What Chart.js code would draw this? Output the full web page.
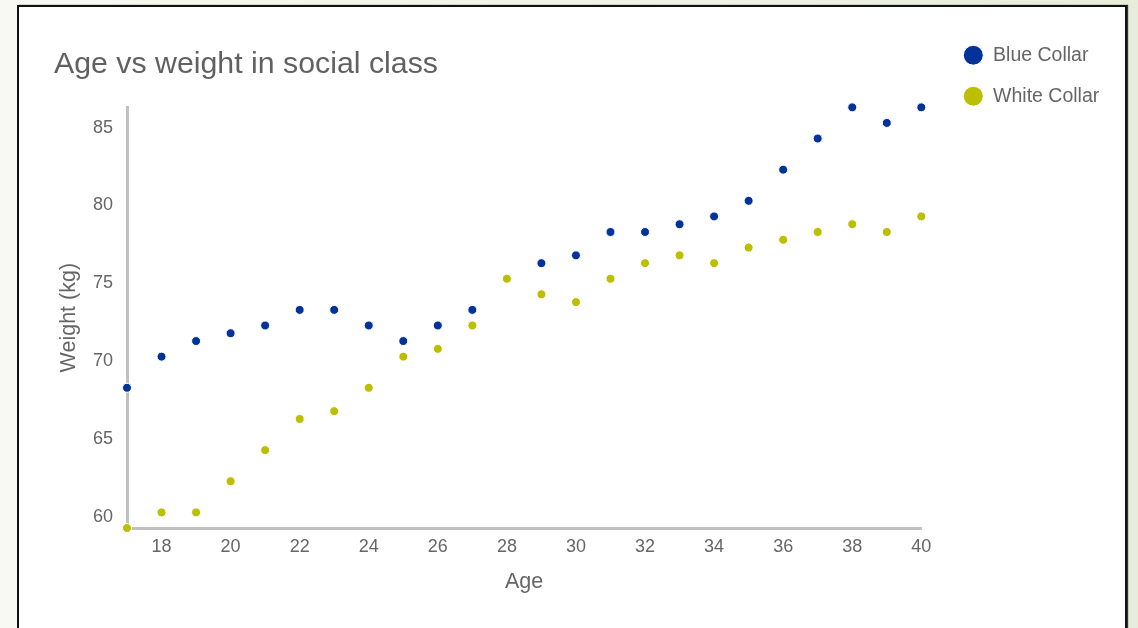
<!DOCTYPE html>
<html>
<head>
<meta charset="utf-8">
<title>Age vs weight in social class</title>
<script src="https://cdn.jsdelivr.net/npm/chart.js@4.4.1/dist/chart.umd.min.js"></script>
<style>
  html, body {
    margin: 0;
    padding: 0;
    width: 1138px;
    height: 628px;
    overflow: hidden;
    background: linear-gradient(to right, #f8f9f3 0%, #f1f3e8 50%, #e8eddb 100%);
  }
  #card {
    position: absolute;
    left: 17px;
    top: 5px;
    width: 1106px;
    height: 700px;
    background: #ffffff;
    border: 2px solid #111111;
    box-shadow: 1px 0 1px #333333;
  }
  #chart {
    position: absolute;
    left: 0;
    top: 0;
  }
</style>
</head>
<body>
<div id="card"></div>
<canvas id="chart" width="1138" height="628"></canvas>
<script>
// Age in years (x) and mean weight in kg (y) for the two groups
const ages = [17, 18, 19, 20, 21, 22, 23, 24, 25, 26, 27, 28, 29, 30, 31, 32, 33, 34, 35, 36, 37, 38, 39, 40];
const blueCollar = [68.3, 70.3, 71.3, 71.8, 72.3, 73.3, 73.3, 72.3, 71.3, 72.3, 73.3, null, 76.3, 76.8, 78.3, 78.3, 78.8, 79.3, 80.3, 82.3, 84.3, 86.3, 85.3, 86.3];
const whiteCollar = [59.3, 60.3, 60.3, 62.3, 64.3, 66.3, 66.8, 68.3, 70.3, 70.8, 72.3, 75.3, 74.3, 73.8, 75.3, 76.3, 76.8, 76.3, 77.3, 77.8, 78.3, 78.8, 78.3, 79.3];
const ageTicks = [18, 20, 22, 24, 26, 28, 30, 32, 34, 36, 38, 40];
const weightTicks = [60, 65, 70, 75, 80, 85];

const seriesNames = ['Blue Collar', 'White Collar'];
const seriesColors = ['#03339a', '#bbbf00'];

function toPoints(values) {
  const pts = [];
  values.forEach((v, i) => {
    if (v !== null) pts.push({ x: ages[i], y: v });
  });
  return pts;
}

const allWeights = blueCollar.concat(whiteCollar).filter(v => v !== null);
const yMin = Math.min(...allWeights);
const yMax = Math.max(...allWeights);

Chart.defaults.font.family = "'Liberation Sans', Arial, sans-serif";
Chart.defaults.color = '#666666';

const textColor = '#666666';
const axisColor = '#c0c0c0';

new Chart(document.getElementById('chart'), {
  type: 'scatter',
  data: {
    datasets: [blueCollar, whiteCollar].map((values, i) => ({
      label: seriesNames[i],
      data: toPoints(values),
      backgroundColor: seriesColors[i],
      borderColor: '#ffffff',
      borderWidth: 1,
      pointRadius: 4.5,
      pointHoverRadius: 4.5,
      clip: false
    }))
  },
  options: {
    responsive: false,
    animation: false,
    events: [],
    layout: { padding: { left: 54, top: 24, right: 28.75, bottom: 30 } },
    plugins: {
      title: {
        display: true,
        text: 'Age vs weight in social class',
        align: 'start',
        color: '#616161',
        font: { size: 30.3, weight: 'normal' },
        padding: { top: 22.5, bottom: 24.5 }
      },
      legend: {
        position: 'right',
        align: 'start',
        labels: {
          usePointStyle: true,
          pointStyleWidth: 20,
          boxHeight: 14,
          color: textColor,
          font: { size: 19.5 },
          padding: 21.5
        }
      },
      tooltip: { enabled: false }
    },
    scales: {
      x: {
        type: 'linear',
        position: 'bottom',
        min: 17,
        max: 40,
        z: 1,
        grid: { display: false, drawTicks: false },
        border: { display: true, color: axisColor, width: 3 },
        ticks: { color: textColor, font: { size: 18 }, padding: 8 },
        afterBuildTicks: s => { s.ticks = ageTicks.map(v => ({ value: v })); },
        afterFit: s => { s.height = 70; },
        title: {
          display: true,
          text: 'Age',
          color: textColor,
          font: { size: 21.5 },
          padding: { top: 12, bottom: 3 }
        }
      },
      y: {
        type: 'linear',
        position: 'left',
        min: yMin,
        max: yMax,
        z: 1,
        grid: { display: false, drawTicks: false },
        border: { display: true, color: axisColor, width: 3 },
        ticks: { color: textColor, font: { size: 18 }, padding: 14 },
        afterBuildTicks: s => { s.ticks = weightTicks.map(v => ({ value: v })); },
        afterFit: s => { s.width = 73; },
        title: {
          display: true,
          text: 'Weight (kg)',
          color: textColor,
          font: { size: 21.5 },
          padding: { top: 2, bottom: 4 }
        }
      },
      // empty spacer between the plot and the legend
      gap: {
        type: 'linear',
        position: 'right',
        display: true,
        grid: { display: false, drawTicks: false },
        border: { display: false },
        ticks: { display: false },
        afterFit: s => { s.width = 20.5; }
      }
    }
  }
});
</script>
</body>
</html>
